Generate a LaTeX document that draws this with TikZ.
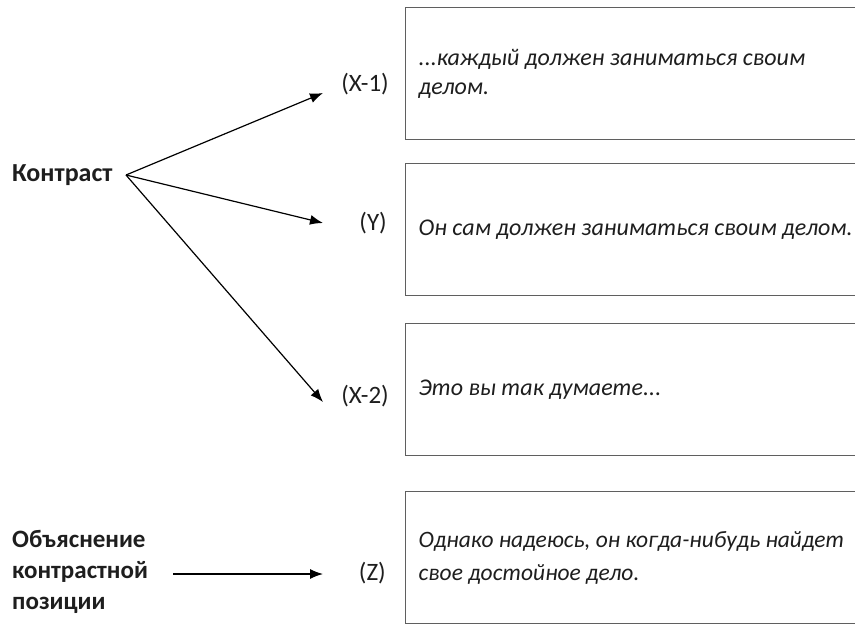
\documentclass[tikz,border=0pt]{standalone}
\usepackage{fontspec}
\setmainfont{Carlito}
\usetikzlibrary{positioning,arrows.meta}
\definecolor{boxgray}{RGB}{95,95,95}
\definecolor{txtgray}{RGB}{30,30,30}

\begin{document}
\begin{tikzpicture}[x=1pt,y=-1pt,
lbl/.style={inner sep=0pt,anchor=east,text=txtgray,font=\fontsize{25}{33}\selectfont},
head/.style={inner sep=0pt,anchor=west,align=left,text=txtgray,
font=\fontsize{26}{31}\selectfont\bfseries},
quote/.style={draw=boxgray,line width=1.4pt,anchor=north west,text width=480pt,
minimum height=132pt,inner xsep=13pt,align=flush left,text=txtgray,
font=\fontsize{24}{29}\selectfont\itshape},
arr/.style={-{Latex[length=13pt,width=10pt]},line width=1.2pt}]
\useasboundingbox (0,0) rectangle (855,624);
% boxes run out past the right edge
\node[quote] (b1) at (405,7) {...каждый должен заниматься своим\\делом.};
\node[quote] (b2) at (405,163) {Он сам должен заниматься своим делом.};
\node[quote] (b3) at (405,323) {Это вы так думаете...};
\node[quote,font=\fontsize{23.5}{33}\selectfont\itshape] (b4) at (405,491)
  {Однако надеюсь, он когда-нибудь найдет\\свое достойное дело.};
% labels
\node[lbl] (x1) at (389,84) {(X-1)};
\node[lbl] (y) at (387,223) {(Y)};
\node[lbl] (x2) at (389,396) {(X-2)};
\node[lbl] (z) at (386,573) {(Z)};
\node[head] (ctr) at (12,175) {Контраст};
\node[head,font=\fontsize{25}{31}\selectfont\bfseries] (expl) at (12,572)
  {Объяснение\\контрастной\\позиции};
% arrows
\coordinate (fork) at (126,175);
\coordinate (t1) at (323,93);
\coordinate (t2) at (323,223);
\coordinate (t3) at (323,402);
\coordinate (s4) at (173,574);
\coordinate (t4) at (323,574);
\draw[arr] (fork)--(t1);
\draw[arr] (fork)--(t2);
\draw[arr] (fork)--(t3);
\draw[arr] (s4)--(t4);
\end{tikzpicture}
\end{document}
